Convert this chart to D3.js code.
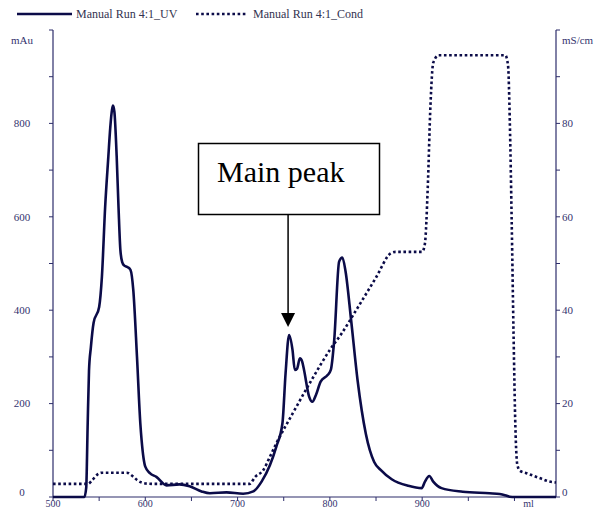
<!DOCTYPE html>
<html><head><meta charset="utf-8">
<script src="https://cdn.jsdelivr.net/npm/d3@7"></script>
<style>
body{margin:0;background:#fff;}
svg{display:block;}
text{font-family:"Liberation Serif","Times New Roman",serif;}
</style></head>
<body>
<svg id="chart" width="595" height="509"></svg>
<script>
// ---- data ----
const uvVolume = [500,534,536,537.5,539,541,544,550,553,556.5,560,562,564,565,566.5,569,571,573,575,577,581,584,587,591,594.6,596,600,605,612,623,637,648,661,670,688,706,717,726,735,742,748.6,752,755.8,759.5,762,764.5,767.5,770,772,777.5,781,784.8,790,797.5,801,804.7,810,813.5,817,823,830,839,848,855,867,885,899.5,903,907.7,912,921,944,973,984,991,995,1000,1045];
const uvValues = [0,0,20,150,270,320,373,407,472,621,730,790,830,838,825,729,620,529,503,496,492,486,443,300,158,122,65,51,43,25,27,23,12,8,10,7,12,33,68,108,158,265,347,315,272,275,297,290,272,215,204,218,247,261,272,336,504,513,483,379,250,135,75,58,38,24,19,33,45,33,19,11.4,8,6.4,3,0.5,0,0];
const condVolume = [500,538,542,548,553,580,586,592,600,610,713,719,728,735,742,760,780,800,812,830,850,866,871,900,903,906,909,912,918,990,993,995,997,999,1001,1003,1006,1013,1028,1038,1045];
const condValues = [2.8,2.8,3.5,4.8,5.2,5.2,4.5,3.5,2.9,2.8,2.8,4.3,5.8,8.6,11.5,18,25,31.5,34.8,40.5,47,52.2,52.5,52.5,54.3,66,84,93,94.6,94.6,92.5,80,59,35,15,7,5.6,5.1,4,3.3,3.1];
const xTicks = [500,600,700,800,900];
const uvTicks = [0,200,400,600,800];
const condTicks = [0,20,40,60,80];
const seriesNames = ["Manual Run 4:1_UV","Manual Run 4:1_Cond"];
const mainPeakVolume = 755.8;
const annotationText = "Main peak";

// ---- layout ----
const svg = d3.select("#chart");
const L = 53, R = 556, T = 30, B = 497;
const axisColor = "#2d2d6b", lineColor = "#0b0b48", labelColor = "#33336e";
const x = d3.scaleLinear().domain([500,1045]).range([L,R]);
const yL = d3.scaleLinear().domain([0,1000]).range([B,T]);
const yR = d3.scaleLinear().domain([0,100]).range([B,T]);

// axes lines
const ax = svg.append("g").attr("stroke",axisColor).attr("stroke-width",1.2);
ax.append("line").attr("x1",L).attr("x2",L).attr("y1",T).attr("y2",B);
ax.append("line").attr("x1",R).attr("x2",R).attr("y1",T).attr("y2",B);
ax.append("line").attr("x1",L).attr("x2",R).attr("y1",B).attr("y2",B);

// left ticks
const leftMinor = d3.range(0,1001,100);
svg.append("g").selectAll("line").data(leftMinor).join("line")
  .attr("x1",L-4).attr("x2",L).attr("y1",d=>yL(d)).attr("y2",d=>yL(d))
  .attr("stroke",axisColor).attr("stroke-width",1);
svg.append("g").selectAll("text").data(uvTicks).join("text")
  .attr("x",22).attr("y",d=>yL(d)+(d===0?-5:0)).attr("dy","0.35em")
  .attr("text-anchor","middle").attr("font-size",11).attr("fill",labelColor)
  .text(d=>d);
svg.append("text").attr("x",22).attr("y",44).attr("text-anchor","middle")
  .attr("font-size",11).attr("fill",labelColor).text("mAu");

// right ticks
const rightMinor = d3.range(0,101,10);
svg.append("g").selectAll("line").data(rightMinor).join("line")
  .attr("x1",R).attr("x2",R+4).attr("y1",d=>yR(d)).attr("y2",d=>yR(d))
  .attr("stroke",axisColor).attr("stroke-width",1);
svg.append("g").selectAll("text").data(condTicks).join("text")
  .attr("x",562).attr("y",d=>yR(d)+(d===0?-5:0)).attr("dy","0.35em")
  .attr("text-anchor","start").attr("font-size",11).attr("fill",labelColor)
  .text(d=>d);
svg.append("text").attr("x",562).attr("y",44).attr("text-anchor","start")
  .attr("font-size",11).attr("fill",labelColor).text("mS/cm");

// bottom ticks
const bottomMinor = d3.range(500,1046,50);
svg.append("g").selectAll("line").data(bottomMinor).join("line")
  .attr("x1",d=>x(d)).attr("x2",d=>x(d)).attr("y1",B).attr("y2",B+4)
  .attr("stroke",axisColor).attr("stroke-width",1);
svg.append("g").selectAll("text").data(xTicks).join("text")
  .attr("x",d=>x(d)).attr("y",507).attr("text-anchor","middle")
  .attr("font-size",10).attr("fill",labelColor).text(d=>d);
svg.append("text").attr("x",x(1000)+14).attr("y",507).attr("text-anchor","middle")
  .attr("font-size",10).attr("fill",labelColor).text("ml");

// lines
const uvData = uvVolume.map((v,i)=>[v,uvValues[i]]);
const condData = condVolume.map((v,i)=>[v,condValues[i]]);
const condLine = d3.line().x(d=>x(d[0])).y(d=>yR(d[1])).curve(d3.curveMonotoneX);
const uvLine = d3.line().x(d=>x(d[0])).y(d=>yL(d[1])).curve(d3.curveMonotoneX);
svg.append("path").datum(condData).attr("d",condLine).attr("fill","none")
  .attr("stroke",lineColor).attr("stroke-width",2.6).attr("stroke-dasharray","2.6,2.6");
svg.append("path").datum(uvData).attr("d",uvLine).attr("fill","none")
  .attr("stroke",lineColor).attr("stroke-width",2.6).attr("stroke-linejoin","round");

// legend
const lg = svg.append("g");
lg.append("line").attr("x1",17).attr("x2",72).attr("y1",14).attr("y2",14)
  .attr("stroke",lineColor).attr("stroke-width",2.6);
lg.append("text").attr("x",76).attr("y",18).attr("font-size",12).attr("fill","#333350").text(seriesNames[0]);
lg.append("line").attr("x1",196).attr("x2",248).attr("y1",14).attr("y2",14)
  .attr("stroke",lineColor).attr("stroke-width",2.6).attr("stroke-dasharray","2.6,2.6");
lg.append("text").attr("x",253).attr("y",18).attr("font-size",12).attr("fill","#333350").text(seriesNames[1]);

// annotation
const ann = svg.append("g");
const ax0 = x(mainPeakVolume)-1;
ann.append("line").attr("x1",ax0).attr("x2",ax0).attr("y1",214).attr("y2",314)
  .attr("stroke","#000").attr("stroke-width",1.5);
ann.append("path").attr("d",`M${ax0-7},313L${ax0+7},313L${ax0},327Z`).attr("fill","#000");
ann.append("rect").attr("x",198.5).attr("y",143.5).attr("width",181).attr("height",71)
  .attr("fill","#fff").attr("stroke","#000").attr("stroke-width",1.5);
ann.append("text").attr("x",217).attr("y",182).attr("font-size",30).attr("fill","#000").text(annotationText);
</script>
</body></html>
